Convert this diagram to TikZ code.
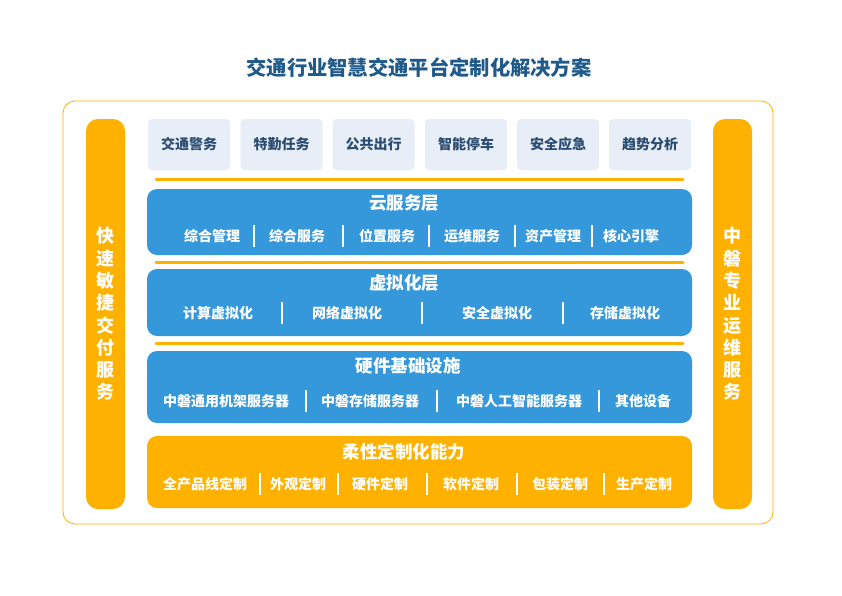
\documentclass[tikz,border=0pt]{standalone}
\usepackage{fontspec}
\setmainfont{Noto Sans CJK SC}
\definecolor{orgc}{HTML}{FFB100}
\definecolor{bluec}{HTML}{3598DB}
\definecolor{lightc}{HTML}{E8EEF8}
\definecolor{darkc}{HTML}{2A4C70}
\definecolor{titlec}{HTML}{1F5A8A}
\tikzset{
 outerbox/.style={draw=orgc, line width=0.8pt, rounded corners=12pt},
 sidebar/.style={fill=orgc, rounded corners=12pt, minimum width=39pt, minimum height=390pt, inner sep=0pt, text=white, align=center, font=\bfseries\fontsize{18}{22.3}\selectfont},
 topbox/.style={fill=lightc, rounded corners=4pt, minimum width=82pt, minimum height=51pt, inner sep=0pt, text=darkc, font=\bfseries\fontsize{14}{16}\selectfont},
 layer/.style={rounded corners=10pt, minimum width=545pt, inner sep=0pt},
 layertitle/.style={text=white, inner sep=0pt, font=\bfseries\fontsize{17.5}{20}\selectfont},
 item/.style={text=white, inner sep=0pt, font=\bfseries\fontsize{14}{16}\selectfont},
 sepline/.style={draw=white, line width=1.8pt},
 divline/.style={draw=orgc, line width=3pt, line cap=round},
}
\begin{document}
\begin{tikzpicture}[x=1pt,y=-1pt]
\fill[white] (0,0) rectangle (842,595);
\useasboundingbox (0,0) rectangle (842,595);
% title
\node[text=titlec, font=\bfseries\fontsize{20.3}{24}\selectfont] (title) at (419,68) {交通行业智慧交通平台定制化解决方案};
% outer frame
\draw[outerbox] (63,101) rectangle (773,524);
% side bars
\node[sidebar] (left) at (105.5,314) {快\\速\\敏\\捷\\交\\付\\服\\务};
\node[sidebar] (right) at (732.5,314) {中\\磐\\专\\业\\运\\维\\服\\务};
% top boxes
\node[topbox] (t1) at (189,144.5) {交通警务};
\node[topbox] (t2) at (281.5,144.5) {特勤任务};
\node[topbox] (t3) at (373.5,144.5) {公共出行};
\node[topbox] (t4) at (466,144.5) {智能停车};
\node[topbox] (t5) at (558,144.5) {安全应急};
\node[topbox] (t6) at (650,144.5) {趋势分析};
% divider lines
\draw[divline] (156,179.5) -- (683,179.5);
\draw[divline] (156,262) -- (683,262);
\draw[divline] (156,343) -- (683,343);
% cloud layer
\node[layer, fill=bluec, minimum height=66pt] (cloud) at (419.5,222) {};
\node[layertitle] (cloudt) at (404,203) {云服务层};
\node[item] (c1) at (212,236) {综合管理};
\node[item] (c2) at (297,236) {综合服务};
\node[item] (c3) at (387,236) {位置服务};
\node[item] (c4) at (472,236) {运维服务};
\node[item] (c5) at (553,236) {资产管理};
\node[item] (c6) at (631,236) {核心引擎};
\foreach \x in {254,343,429,515,592} \draw[sepline] (\x,225) -- (\x,247);
% virtualization layer
\node[layer, fill=bluec, minimum height=67pt] (virt) at (419.5,302.5) {};
\node[layertitle] (virtt) at (404,283) {虚拟化层};
\node[item] (v1) at (218,313) {计算虚拟化};
\node[item] (v2) at (347,313) {网络虚拟化};
\node[item] (v3) at (497,313) {安全虚拟化};
\node[item] (v4) at (625,313) {存储虚拟化};
\foreach \x in {282,422,563} \draw[sepline] (\x,302) -- (\x,324);
% hardware layer
\node[layer, fill=bluec, minimum height=72pt] (hw) at (419.5,387) {};
\node[layertitle] (hwt) at (408,366) {硬件基础设施};
\node[item] (h1) at (226,401) {中磐通用机架服务器};
\node[item] (h2) at (370,401) {中磐存储服务器};
\node[item] (h3) at (519,401) {中磐人工智能服务器};
\node[item] (h4) at (643,401) {其他设备};
\foreach \x in {306,437,599} \draw[sepline] (\x,390) -- (\x,412);
% flexible layer
\node[layer, fill=orgc, minimum height=72pt] (flex) at (419.5,472) {};
\node[layertitle] (flext) at (404,452) {柔性定制化能力};
\node[item] (f1) at (205,484) {全产品线定制};
\node[item] (f2) at (298,484) {外观定制};
\node[item] (f3) at (380,484) {硬件定制};
\node[item] (f4) at (471,484) {软件定制};
\node[item] (f5) at (560,484) {包装定制};
\node[item] (f6) at (644,484) {生产定制};
\foreach \x in {260,338,427,517,604} \draw[sepline] (\x,473) -- (\x,495);
\end{tikzpicture}
\end{document}
